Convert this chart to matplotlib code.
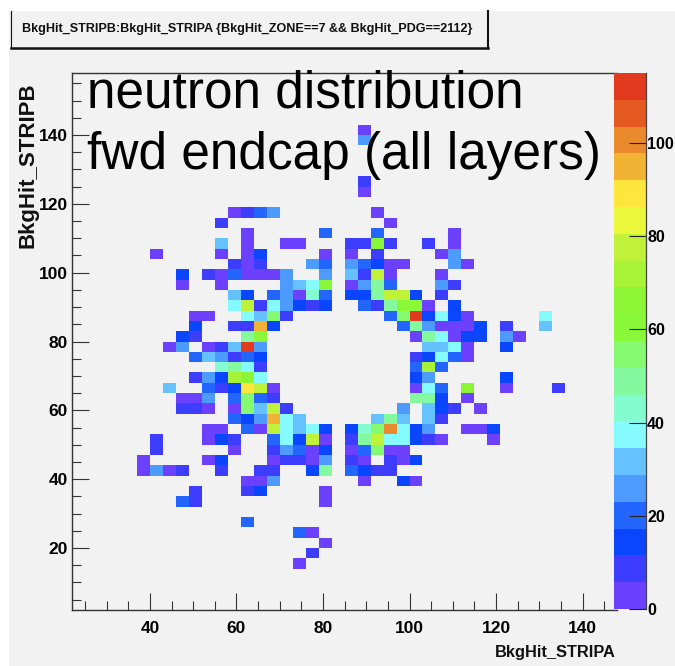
import matplotlib
matplotlib.use("Agg")
import matplotlib.pyplot as plt
import numpy as np
from matplotlib.colors import ListedColormap, BoundaryNorm
from matplotlib.lines import Line2D
from matplotlib.patches import Rectangle

W, H = 675, 666
BG = "#F2F2F2"

title = "BkgHit_STRIPB:BkgHit_STRIPA {BkgHit_ZONE==7 && BkgHit_PDG==2112}"
note_1 = "neutron distribution"
note_2 = "fwd endcap (all layers)"
x_label = "BkgHit_STRIPA"
y_label = "BkgHit_STRIPB"

x_range = (22, 148)
y_range = (2, 158)
z_max = 115
bin_width = 3
x_major = [40, 60, 80, 100, 120, 140]
y_major = [20, 40, 60, 80, 100, 120, 140]
z_major = [0, 20, 40, 60, 80, 100]

band_colours = ["#6B40FF", "#3D3DFF", "#0A46FF", "#2366FF", "#4D9BFF",
                "#66C2FF", "#85FBFF", "#85FBD0", "#85F9A0", "#85F970",
                "#88F838", "#8CF636", "#A8F238", "#BFF238", "#ECF83B",
                "#FFE63C", "#F2B233", "#EB8A2C", "#E65A22", "#E23A1E"]

# One list per STRIPB bin (index from the lower edge): (STRIPA bin, colour band)
row_04 = [(17, 0)]
row_05 = [(18, 1)]
row_06 = [(19, 0)]
row_07 = [(17, 3), (18, 0)]
row_08 = [(13, 3)]
row_10 = [(8, 3), (9, 1), (19, 0)]
row_11 = [(9, 1), (13, 1), (14, 2), (19, 0)]
row_12 = [(13, 0), (14, 0), (15, 4), (22, 0), (25, 2), (26, 0)]
row_13 = [(5, 0), (6, 4), (7, 0), (8, 1), (11, 1), (14, 1), (15, 1), (18, 2), (19, 8),
          (21, 3), (22, 2), (23, 1), (24, 1)]
row_14 = [(5, 0), (10, 0), (11, 2), (15, 0), (16, 1), (17, 1), (18, 0), (19, 4),
          (21, 1), (22, 0), (24, 1), (25, 0), (26, 2)]
row_15 = [(6, 1), (12, 0), (15, 1), (16, 4), (17, 3), (18, 0), (19, 2), (21, 0),
          (22, 3), (23, 9), (24, 0), (25, 0)]
row_16 = [(6, 1), (10, 0), (11, 2), (12, 1), (15, 3), (16, 6), (17, 2), (18, 13),
          (19, 0), (21, 1), (22, 8), (23, 13), (24, 6), (25, 6), (26, 2), (27, 1),
          (28, 0), (32, 0)]
row_17 = [(10, 0), (11, 0), (13, 3), (14, 0), (15, 13), (16, 6), (17, 5), (18, 6),
          (19, 2), (21, 2), (22, 7), (23, 9), (24, 17), (25, 6), (26, 2), (27, 4),
          (30, 0), (31, 0), (32, 2)]
row_18 = [(12, 3), (13, 2), (14, 4), (15, 16), (16, 6), (17, 5), (23, 5), (24, 8),
          (25, 5), (27, 5), (28, 1)]
row_19 = [(8, 1), (9, 1), (10, 0), (12, 0), (13, 9), (14, 5), (15, 13), (16, 1),
          (25, 4), (27, 5), (28, 2), (29, 1), (31, 0)]
row_20 = [(8, 0), (9, 0), (10, 4), (12, 3), (13, 9), (14, 3), (15, 1), (26, 8),
          (27, 8), (28, 2), (30, 0)]
row_21 = [(7, 5), (10, 3), (11, 1), (12, 2), (13, 15), (14, 13), (15, 0), (26, 0),
          (27, 6), (28, 3), (30, 11), (33, 0), (37, 1)]
row_22 = [(9, 1), (10, 4), (11, 2), (12, 12), (13, 11), (14, 6), (26, 2), (27, 4), (33, 2)]
row_23 = [(11, 7), (12, 8), (13, 6), (14, 1), (26, 3), (27, 12), (28, 3)]
row_24 = [(9, 3), (10, 5), (11, 4), (12, 1), (13, 3), (14, 2), (26, 1), (27, 2),
          (28, 6), (29, 3), (30, 0)]
row_25 = [(7, 0), (8, 4), (10, 0), (11, 1), (12, 5), (13, 19), (14, 4), (27, 5),
          (28, 5), (29, 6), (30, 0), (33, 2)]
row_26 = [(8, 2), (9, 1), (13, 8), (14, 10), (26, 0), (27, 8), (28, 6), (29, 0),
          (30, 2), (31, 2), (33, 4), (34, 0)]
row_27 = [(9, 2), (12, 1), (13, 1), (14, 16), (15, 2), (25, 3), (26, 8), (27, 4),
          (28, 0), (29, 0), (30, 0), (31, 2), (33, 1), (36, 5)]
row_28 = [(9, 0), (10, 0), (13, 6), (14, 5), (15, 9), (16, 1), (24, 3), (25, 9),
          (26, 19), (27, 2), (28, 6), (29, 2), (30, 0), (36, 6)]
row_29 = [(12, 6), (13, 13), (14, 1), (15, 6), (16, 4), (17, 2), (18, 1), (19, 2),
          (22, 3), (23, 1), (24, 8), (25, 10), (26, 10), (27, 0), (29, 2)]
row_30 = [(12, 5), (13, 2), (15, 3), (16, 4), (17, 0), (18, 7), (19, 3), (21, 2),
          (22, 2), (23, 8), (24, 13), (25, 13), (26, 2), (28, 1)]
row_31 = [(8, 0), (11, 0), (16, 4), (17, 5), (18, 6), (19, 10), (21, 0), (22, 4),
          (23, 8), (24, 3), (28, 4), (29, 1)]
row_32 = [(8, 2), (10, 1), (11, 0), (12, 3), (13, 0), (14, 0), (15, 0), (16, 4),
          (19, 4), (21, 5), (22, 1), (23, 13), (24, 0), (28, 0)]
row_33 = [(12, 1), (13, 0), (14, 1), (18, 4), (19, 3), (21, 4), (22, 3), (23, 2),
          (24, 0), (25, 0), (29, 4), (30, 0)]
row_34 = [(6, 0), (11, 0), (13, 0), (14, 2), (19, 0), (21, 0), (23, 1), (28, 0), (29, 4)]
row_35 = [(11, 5), (13, 0), (16, 0), (17, 0), (21, 1), (22, 1), (23, 10), (24, 1),
          (27, 1), (29, 0)]
row_36 = [(13, 0), (19, 3), (23, 3), (29, 0)]
row_37 = [(11, 1), (24, 0)]
row_38 = [(12, 0), (13, 1), (14, 3), (15, 4), (23, 0)]
row_40 = [(22, 0)]
row_41 = [(22, 1)]
row_45 = [(22, 4)]
row_46 = [(22, 0)]

strip_b_rows = {4: row_04, 5: row_05, 6: row_06, 7: row_07, 8: row_08, 10: row_10,
                11: row_11, 12: row_12, 13: row_13, 14: row_14, 15: row_15, 16: row_16,
                17: row_17, 18: row_18, 19: row_19, 20: row_20, 21: row_21, 22: row_22,
                23: row_23, 24: row_24, 25: row_25, 26: row_26, 27: row_27, 28: row_28,
                29: row_29, 30: row_30, 31: row_31, 32: row_32, 33: row_33, 34: row_34,
                35: row_35, 36: row_36, 37: row_37, 38: row_38, 40: row_40, 41: row_41,
                45: row_45, 46: row_46}

plt.rcParams["font.family"] = ["Liberation Sans"]


def box(l, t, r, b):
    return [l / W, 1 - b / H, (r - l) / W, (b - t) / H]


fig = plt.figure(figsize=(W / 100, H / 100), dpi=100, facecolor="white")
fig.patches.append(Rectangle((9 / W, 0), 1 - 9 / W, 1 - 11 / H, transform=fig.transFigure,
                             facecolor=BG, edgecolor="none", zorder=-10))

# Histogram
edges_x = np.arange(x_range[0], x_range[1] + bin_width, bin_width)
edges_y = np.arange(y_range[0], y_range[1] + bin_width, bin_width)
band_width = z_max / len(band_colours)
grid = np.full((len(edges_y) - 1, len(edges_x) - 1), np.nan)
for r, cells in strip_b_rows.items():
    for k, band in cells:
        grid[r, k] = (band + 0.5) * band_width

cmap = ListedColormap(band_colours)
norm = BoundaryNorm(np.linspace(0, z_max, len(band_colours) + 1), cmap.N)

ax = fig.add_axes(box(72, 73, 617.2, 610), facecolor=BG)
ax.pcolormesh(edges_x, edges_y, grid, cmap=cmap, norm=norm, zorder=1)
ax.set_xlim(*x_range)
ax.set_ylim(*y_range)
ax.spines["right"].set_visible(False)
for s in ("left", "bottom", "top"):
    ax.spines[s].set_linewidth(1.0)
    ax.spines[s].set_color("#333333")

ax.set_xticks(x_major)
ax.set_yticks(y_major)
ax.set_xticks(np.arange(25, 150, 5), minor=True)
ax.set_yticks(np.arange(5, 158, 5), minor=True)
ax.tick_params(axis="both", which="major", direction="in", length=12.2, width=0.8,
               color="#333333", labelsize=12.5)
ax.tick_params(axis="both", which="minor", direction="in", length=6.2, width=0.8,
               color="#333333")
ax.tick_params(axis="x", which="major", pad=8)
ax.tick_params(axis="y", which="major", pad=3)
for t in ax.get_xticklabels() + ax.get_yticklabels():
    t.set_fontweight("bold")

# Colour scale
cax = fig.add_axes(box(614, 73, 645.7, 609), facecolor=BG, zorder=3)
levels = np.linspace(0, z_max, len(band_colours) + 1)
cax.pcolormesh([0, 1], levels, (levels[:-1] + band_width / 2).reshape(-1, 1), cmap=cmap, norm=norm)
cax.set_xlim(0, 1)
cax.set_ylim(0, z_max)
cax.set_xticks([])
cax.yaxis.tick_right()
cax.set_yticks(z_major)
cax.tick_params(axis="y", direction="in", length=12.2, width=0.8, color="#222222",
                labelsize=11.5, pad=1)
for t in cax.get_yticklabels():
    t.set_fontweight("bold")
for s in ("left", "top", "bottom"):
    cax.spines[s].set_visible(False)
cax.spines["right"].set_linewidth(0.9)
cax.spines["right"].set_color("#444444")

# Title box
for x0, y0, x1, y1, lw in [(10.5, 11, 10.5, 47, 0.8), (10.5, 47.5, 488, 47.5, 1.8),
                           (488, 11, 488, 48, 1.5)]:
    fig.add_artist(Line2D([x0 / W, x1 / W], [1 - y0 / H, 1 - y1 / H], color="#111111", lw=lw))
fig.text(22 / W, 1 - 29 / H, title, fontweight="bold", fontsize=9.1,
         ha="left", va="center", color="#111111")

# Axis titles
fig.text(616 / W, 1 - 652 / H, x_label, fontweight="bold", fontsize=11.8,
         ha="right", va="center", color="#111111")
fig.text(28 / W, 1 - 165 / H, y_label, fontweight="bold", fontsize=16, rotation=90,
         ha="center", va="center", color="#111111")

# Annotations
fig.text(87 / W, 1 - 107 / H, note_1, fontsize=37, ha="left", va="baseline", color="black", zorder=5)
fig.text(87 / W, 1 - 169 / H, note_2, fontsize=37, ha="left", va="baseline", color="black", zorder=5)

fig.savefig("out.png", dpi=100, facecolor="white")
